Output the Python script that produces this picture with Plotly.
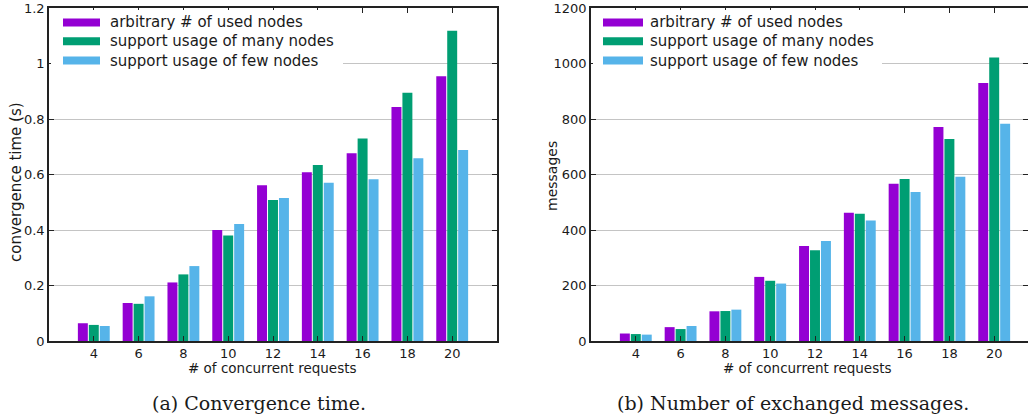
import plotly.graph_objects as go

requests = [4, 6, 8, 10, 12, 14, 16, 18, 20]
series_names = ["arbitrary # of used nodes", "support usage of many nodes", "support usage of few nodes"]
colors = ["#9400D3", "#009E73", "#56B4E9"]

time_arbitrary = [0.064, 0.137, 0.211, 0.400, 0.561, 0.608, 0.677, 0.843, 0.954]
time_many = [0.058, 0.134, 0.240, 0.380, 0.508, 0.634, 0.730, 0.895, 1.118]
time_few = [0.054, 0.161, 0.270, 0.422, 0.515, 0.570, 0.583, 0.659, 0.688]

msg_arbitrary = [27, 50, 107, 231, 342, 462, 567, 771, 930]
msg_many = [25, 43, 108, 217, 327, 459, 584, 728, 1022]
msg_few = [23, 54, 113, 207, 360, 434, 537, 592, 783]

W, H = 1028, 419
FONT = "DejaVu Sans"
TXT = "#1a1a1a"

def px(x):
    return x / W

def py(y):
    return 1 - y / H

fig = go.Figure()

left_series = [time_arbitrary, time_many, time_few]
right_series = [msg_arbitrary, msg_many, msg_few]
for i in range(3):
    fig.add_trace(go.Bar(x=requests, y=left_series[i], name=series_names[i],
                         marker=dict(color=colors[i], line=dict(width=0)),
                         xaxis="x", yaxis="y", showlegend=False, offsetgroup=str(i)))
    fig.add_trace(go.Bar(x=requests, y=right_series[i], name=series_names[i],
                         marker=dict(color=colors[i], line=dict(width=0)),
                         xaxis="x2", yaxis="y2", showlegend=False, offsetgroup=str(i)))

# plot areas (pixel)
L1, R1 = 49, 497
L2, R2 = 591, 1028
TOP, BOT = 8, 341
unit = (R1 - L1) / 20.0

common_x = dict(tickvals=requests, ticks="inside", ticklen=5, tickcolor="#222",
                showline=True, linecolor="#222", linewidth=1.5, mirror="ticks",
                showgrid=False, zeroline=False, automargin=False,
                tickfont=dict(family=FONT, size=13, color=TXT))
common_y = dict(ticks="inside", ticklen=5, tickcolor="#222",
                showline=True, linecolor="#222", linewidth=1.5, mirror="ticks",
                showgrid=True, gridcolor="#c4c4c4", gridwidth=1, zeroline=False,
                automargin=False,
                tickfont=dict(family=FONT, size=13, color=TXT))

fig.update_layout(
    width=W, height=H,
    margin=dict(l=0, r=0, t=0, b=0, autoexpand=False),
    paper_bgcolor="white", plot_bgcolor="white",
    barmode="group", bargap=0.267, bargroupgap=0.09,
    showlegend=False,
    xaxis=dict(domain=[px(L1), px(R1)], range=[2, 22], anchor="y", **common_x),
    yaxis=dict(domain=[py(BOT), py(TOP)], range=[0, 1.2], anchor="x",
               tickvals=[0, 0.2, 0.4, 0.6, 0.8, 1.0, 1.2],
               ticktext=["0", "0.2", "0.4", "0.6", "0.8", "1", "1.2"], **common_y),
    xaxis2=dict(domain=[px(L2), px(R2)], range=[2, 2 + (R2 - L2) / unit], anchor="y2", **common_x),
    yaxis2=dict(domain=[py(BOT), py(TOP)], range=[0, 1200], anchor="x2",
                tickvals=[0, 200, 400, 600, 800, 1000, 1200], **common_y),
)

shapes = []
annotations = []

def add_legend(x_rect0, x_rect1, x_text, box_right, plot_left):
    shapes.append(dict(type="rect", xref="paper", yref="paper",
                       x0=px(plot_left + 2), x1=px(box_right), y0=py(72), y1=py(TOP + 2),
                       fillcolor="white", line=dict(width=0), layer="above"))
    rows = [22.5, 41.2, 60.5]
    for i, name in enumerate(series_names):
        yc = rows[i]
        shapes.append(dict(type="rect", xref="paper", yref="paper",
                           x0=px(x_rect0), x1=px(x_rect1), y0=py(yc + 4), y1=py(yc - 4),
                           fillcolor=colors[i], line=dict(width=0), layer="above"))
        annotations.append(dict(text=name, xref="paper", yref="paper",
                                x=px(x_text), y=py(yc), xanchor="left", yanchor="middle",
                                showarrow=False, font=dict(family=FONT, size=15, color=TXT)))

add_legend(63, 100, 108, 343, L1)
add_legend(603, 643, 648, 882, L2)

# axis titles
annotations.append(dict(text="convergence time (s)", xref="paper", yref="paper",
                        x=px(16), y=py(182), textangle=-90, showarrow=False,
                        xanchor="center", yanchor="middle",
                        font=dict(family=FONT, size=15, color=TXT)))
annotations.append(dict(text="messages", xref="paper", yref="paper",
                        x=px(552), y=py(176), textangle=-90, showarrow=False,
                        xanchor="center", yanchor="middle",
                        font=dict(family=FONT, size=14, color=TXT)))
annotations.append(dict(text="# of concurrent requests", xref="paper", yref="paper",
                        x=px(272), y=py(368), showarrow=False,
                        xanchor="center", yanchor="middle",
                        font=dict(family=FONT, size=13.5, color=TXT)))
annotations.append(dict(text="# of concurrent requests", xref="paper", yref="paper",
                        x=px(807), y=py(368), showarrow=False,
                        xanchor="center", yanchor="middle",
                        font=dict(family=FONT, size=13.5, color=TXT)))
# captions
annotations.append(dict(text="(a) Convergence time.", xref="paper", yref="paper",
                        x=px(259), y=py(403), showarrow=False,
                        xanchor="center", yanchor="middle",
                        font=dict(family="DejaVu Serif", size=19, color=TXT)))
annotations.append(dict(text="(b) Number of exchanged messages.", xref="paper", yref="paper",
                        x=px(793), y=py(403), showarrow=False,
                        xanchor="center", yanchor="middle",
                        font=dict(family="DejaVu Serif", size=19, color=TXT)))

fig.update_layout(shapes=shapes, annotations=annotations)
fig.write_html("out.html", config={"displayModeBar": False},
               post_script="document.body.style.margin='0px';document.body.style.overflow='hidden';")
